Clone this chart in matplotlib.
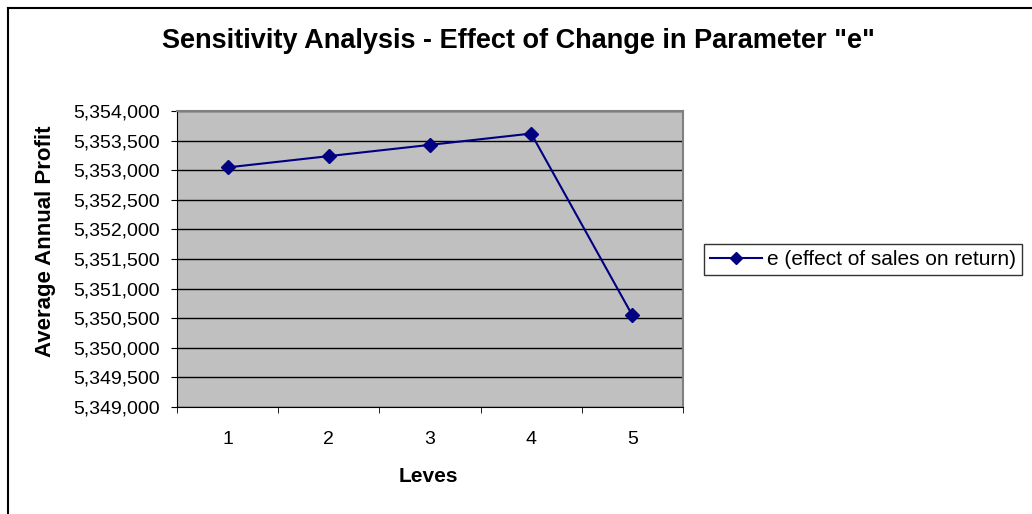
import matplotlib.pyplot as plt
from matplotlib.lines import Line2D
from matplotlib.ticker import FuncFormatter

# Data
levels = [1, 2, 3, 4, 5]
profit = [5353047, 5353238, 5353428, 5353619, 5350547]
series_name = 'e (effect of sales on return)'

plt.rcParams['font.family'] = ['Liberation Sans', 'DejaVu Sans']

fig = plt.figure(figsize=(10.32, 5.14), dpi=100)
ax = fig.add_axes([177 / 1032, 1 - 407 / 514, 506 / 1032, 296 / 514])

ax.set_facecolor('#C0C0C0')
ax.plot(levels, profit, color='#000080', marker='D', markersize=7, linewidth=1.5,
        label=series_name, zorder=3)

ax.set_xlim(0.5, 5.5)
ax.set_ylim(5349000, 5354000)
ax.set_yticks(range(5349000, 5354001, 500))
ax.yaxis.set_major_formatter(FuncFormatter(lambda v, p: '{:,.0f}'.format(v)))
ax.set_xticks(levels)
ax.set_xticks([0.5, 1.5, 2.5, 3.5, 4.5, 5.5], minor=True)
ax.tick_params(axis='x', which='major', length=0, labelsize=14, pad=17)
ax.tick_params(axis='x', which='minor', length=4, direction='out')
ax.tick_params(axis='y', length=4, direction='out', labelsize=14, pad=8.5)
ax.grid(axis='y', color='black', linewidth=1)
ax.set_axisbelow(True)

for s in ['top', 'right']:
    ax.spines[s].set_color('#808080')
    ax.spines[s].set_linewidth(1.5)
for s in ['left', 'bottom']:
    ax.spines[s].set_color('black')

fig.text(518 / 1032, 1 - 48 / 514, 'Sensitivity Analysis - Effect of Change in Parameter "e"',
         ha='center', va='baseline', fontsize=19.5, fontweight='bold')
fig.text(428 / 1032, 1 - 477 / 514, 'Leves', ha='center', va='center',
         fontsize=15, fontweight='bold')
fig.text(46 / 1032, 1 - 241 / 514, 'Average Annual Profit', ha='center', va='center',
         rotation=90, fontsize=16, fontweight='bold')

leg = fig.legend(handles=[Line2D([0], [0], color='#000080', marker='D', markersize=6,
                                 linewidth=1.5)],
                 labels=[series_name], loc='center', bbox_to_anchor=(863 / 1032, 1 - 259.5 / 514),
                 frameon=True, fancybox=False, edgecolor='black', fontsize=15,
                 handlelength=2.5, handletextpad=0.25, borderpad=0.3)
leg.get_frame().set_linewidth(1)

# outer chart border (only top and left visible in the crop)
fig.add_artist(Line2D([8 / 1032, 8 / 1032], [0, 1 - 8 / 514], color='black', linewidth=1.5,
                      transform=fig.transFigure))
fig.add_artist(Line2D([8 / 1032, 1], [1 - 8 / 514, 1 - 8 / 514], color='black', linewidth=1.5,
                      transform=fig.transFigure))

fig.savefig('out.png', dpi=100)
